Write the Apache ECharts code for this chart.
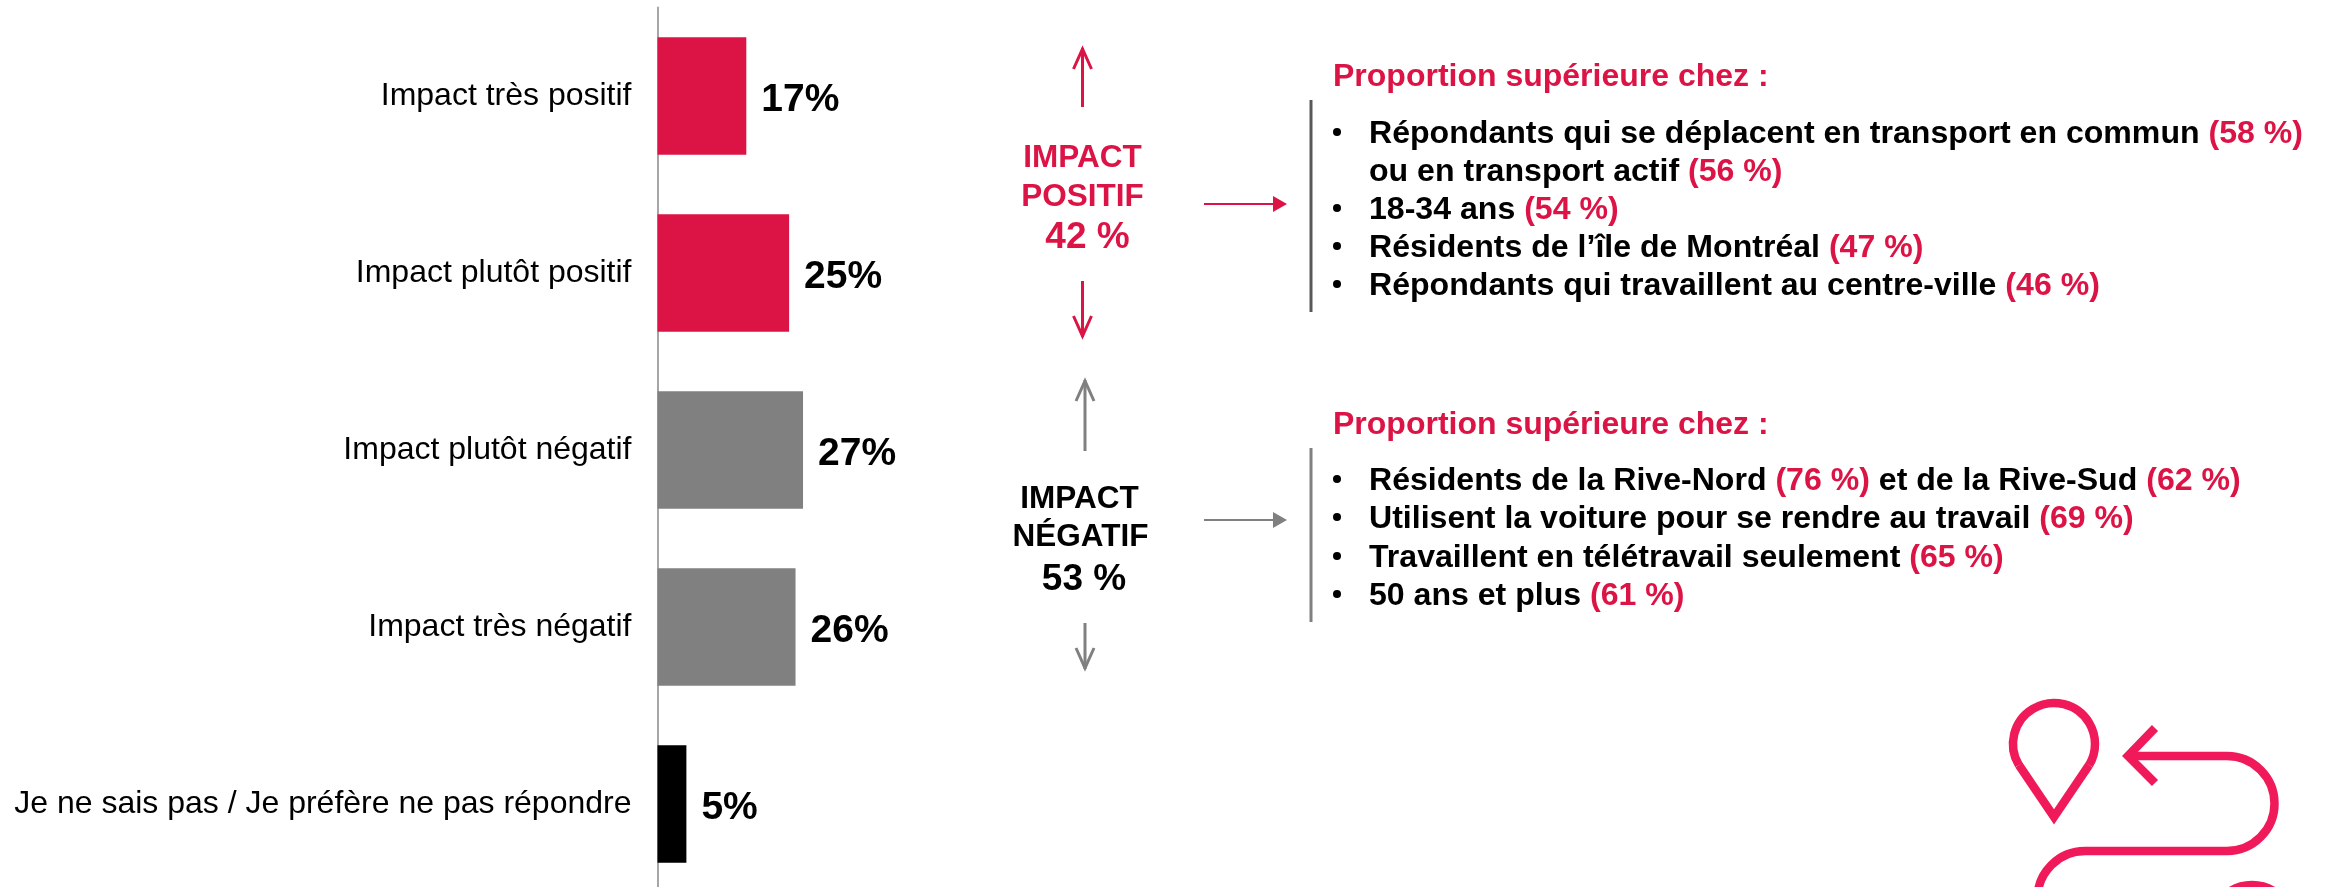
<!DOCTYPE html>
<html><head><meta charset="utf-8">
<style>html,body{margin:0;padding:0;background:#fff}#c{width:2325px;height:887px}</style>
<script src="https://cdn.jsdelivr.net/npm/echarts@6/dist/echarts.min.js"></script>
</head><body><div id="c"></div>
<script>
const categories = ['Impact très positif','Impact plutôt positif','Impact plutôt négatif','Impact très négatif','Je ne sais pas / Je préfère ne pas répondre'];
const values = [16.6,24.6,27.2,25.8,5.4];
const barKinds = ['pos','pos','neg','neg','dk'];
const summaryPos = ['IMPACT','POSITIF','42 %'];
const summaryNeg = ['IMPACT','NÉGATIF','53 %'];
const headline = 'Proportion supérieure chez :';
const bulletsPos = [
  [['Répondants qui se déplacent en transport en commun ','b'],['(58 %)','r']],
  [['ou en transport actif ','b'],['(56 %)','r']],
  [['18-34 ans ','b'],['(54 %)','r']],
  [['Résidents de l’île de Montréal ','b'],['(47 %)','r']],
  [['Répondants qui travaillent au centre-ville ','b'],['(46 %)','r']]
];
const bulletsNeg = [
  [['Résidents de la Rive-Nord ','b'],['(76 %)','r'],[' et de la Rive-Sud ','b'],['(62 %)','r']],
  [['Utilisent la voiture pour se rendre au travail ','b'],['(69 %)','r']],
  [['Travaillent en télétravail seulement ','b'],['(65 %)','r']],
  [['50 ans et plus ','b'],['(61 %)','r']]
];

const RED='#DC1446', GRAY='#808080', ICON='#F0195A', FONT='"Liberation Sans", Arial, sans-serif';
const colors={pos:RED,neg:GRAY,dk:'#000000'};
const BODY=32.1;
const rich={b:{fontFamily:FONT,fontWeight:'bold',fontSize:BODY,fill:'#000',color:'#000'},
            r:{fontFamily:FONT,fontWeight:'bold',fontSize:BODY,fill:RED,color:RED}};
const g=[];
function txt(s,x,y,size,fill,align){g.push({type:'text',silent:true,style:{text:s,x,y,fill,font:`bold ${size}px ${FONT}`,align:align||'left',verticalAlign:'middle'}});}
function line(pts,color,w){g.push({type:'polyline',silent:true,shape:{points:pts},style:{stroke:color,lineWidth:w,fill:null}});}
function vArrow(x,y0,y1,color){
  const d=y1>y0?-1:1;
  line([[x,y0],[x,y1]],color,3);
  line([[x-9,y1+d*21],[x,y1+d],[x+9,y1+d*21]],color,3);
}
function hArrow(x0,x1,y,color){
  line([[x0,y],[x1-10,y]],color,2);
  g.push({type:'polygon',silent:true,shape:{points:[[x1-14,y-8],[x1,y],[x1-14,y+8]]},style:{fill:color}});
}
function block(lines,ys){
  lines.forEach((segs,i)=>{
    const s=segs.map(p=>`{${p[1]}|${p[0]}}`).join('');
    g.push({type:'text',silent:true,style:{text:s,rich,x:1369,y:ys[i],verticalAlign:'middle',align:'left'}});
  });
}
vArrow(1082.5,107,48,RED); vArrow(1082.5,281,337,RED);
txt(summaryPos[0],1082.5,158,31.5,RED,'center');txt(summaryPos[1],1082.5,197,31.5,RED,'center');txt(summaryPos[2],1087.5,237.5,37,RED,'center');
hArrow(1204,1287,204,RED);
line([[1311,100],[1311,312]],'#595959',3);
txt(headline,1333,77,32,RED);
block(bulletsPos,[134,172,210,248,286]);
[133,209,247,285].forEach(y=>g.push({type:'circle',silent:true,shape:{cx:1337,cy:y-1,r:4},style:{fill:'#000'}}));
vArrow(1085,451,380,GRAY); vArrow(1085,623,669,GRAY);
txt(summaryNeg[0],1079.5,499,31.5,'#000','center');txt(summaryNeg[1],1080.5,537,31.5,'#000','center');txt(summaryNeg[2],1084,580,37,'#000','center');
hArrow(1204,1287,520,GRAY);
line([[1311,448],[1311,622]],GRAY,3);
txt(headline,1333,425,32,RED);
block(bulletsNeg,[481,519,558,596]);
[480,518,557,595].forEach(y=>g.push({type:'circle',silent:true,shape:{cx:1337,cy:y-1,r:4},style:{fill:'#000'}}));
// route icon
const stroke={stroke:ICON,lineWidth:8.5,fill:null};
const arc=(cx,cy,r,a0,a1,cw)=>g.push({type:'arc',silent:true,shape:{cx,cy,r,startAngle:a0,endAngle:a1,clockwise:cw},style:stroke});
const deg=d=>d*Math.PI/180;
arc(2054,744,41,deg(149),deg(31),true);
g.push({type:'polyline',silent:true,shape:{points:[[2018.9,765],[2054,817],[2089.1,765]]},style:Object.assign({},stroke,{lineJoin:'miter',miterLimit:10})});
g.push({type:'polyline',silent:true,shape:{points:[[2155,728],[2128,756],[2155,783]]},style:Object.assign({},stroke,{lineJoin:'miter'})});
g.push({type:'polyline',silent:true,shape:{points:[[2128,756],[2227,756]]},style:stroke});
arc(2227,803.5,47.5,deg(-90),deg(90),true);
g.push({type:'polyline',silent:true,shape:{points:[[2227,851],[2085,851]]},style:stroke});
arc(2085,898.5,47.5,deg(-90),deg(180),false);
g.push({type:'circle',silent:true,shape:{cx:2252,cy:926,r:41},style:stroke});

const chart=echarts.init(document.getElementById('c'),null,{renderer:'canvas'});
chart.setOption({
  animation:false,backgroundColor:'#fff',
  grid:{left:657.5,top:7.5,width:1000,height:885,outerBoundsMode:'none'},
  xAxis:{type:'value',min:0,max:1000/5.35,show:false},
  yAxis:{type:'category',inverse:true,data:categories,
    axisLine:{show:true,lineStyle:{color:'#A6A6A6',width:2}},axisTick:{show:false},
    axisLabel:{margin:26,fontFamily:FONT,fontSize:32,color:'#000',lineHeight:36,padding:[4,0,0,0],formatter:v=>v}},
  series:[{type:'bar',barWidth:117.6,
    data:values.map((v,i)=>({value:v,itemStyle:{color:colors[barKinds[i]]}})),
    label:{show:true,position:'right',distance:15,offset:[0,4],fontFamily:FONT,fontWeight:'bold',fontSize:39,color:'#000',
      formatter:p=>Math.round(p.value)+'%'}}],
  graphic:{elements:g}
});
</script></body></html>
